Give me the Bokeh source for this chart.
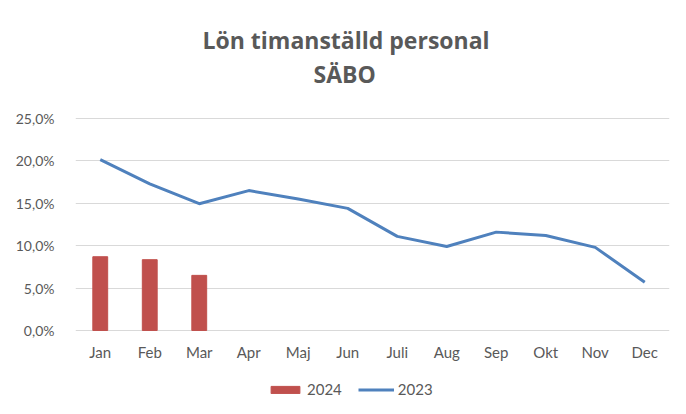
from bokeh.plotting import figure
from bokeh.models import (Title, Legend, LegendItem, CustomJSTickFormatter, FixedTicker,
                          CategoricalAxis)
from bokeh.embed import file_html
from bokeh.resources import INLINE

months = ["Jan", "Feb", "Mar", "Apr", "Maj", "Jun", "Juli", "Aug", "Sep", "Okt", "Nov", "Dec"]
bars_2024_months = ["Jan", "Feb", "Mar"]
bars_2024 = [8.7, 8.35, 6.5]
line_2023 = [20.15, 17.3, 14.95, 16.5, 15.5, 14.4, 11.1, 9.9, 11.6, 11.2, 9.8, 5.7]
y_ticks = [0, 5, 10, 15, 20, 25]

TXT = "#595959"
FONT = "Lato"

p = figure(x_range=months, y_range=(-8.02, 28.42), width=670, height=398,
           output_backend="svg", toolbar_location=None, x_axis_location=None,
           min_border_left=75, min_border_right=1, min_border_top=89, min_border_bottom=0)
p.title = None

t2 = Title(text="SÄBO", align="left", offset=238, text_font_size="23px", text_font="Open Sans",
           text_font_style="bold", text_color=TXT, standoff=0)
t1 = Title(text="Lön timanställd personal", align="left", offset=127, text_font_size="23px",
           text_font="Open Sans", text_font_style="bold", text_color=TXT, standoff=0)
p.add_layout(t2, "above")
p.add_layout(t1, "above")

r_bar = p.vbar(x=bars_2024_months, top=bars_2024, width=0.3, color="#C0504D")
r_line = p.line(x=months, y=line_2023, line_width=3, color="#4F81BD")

xaxis = CategoricalAxis(fixed_location=0)
p.add_layout(xaxis, "below")

p.outline_line_color = None
p.xgrid.grid_line_color = None
p.ygrid.grid_line_color = "#D9D9D9"
p.ygrid.grid_line_width = 1
p.ygrid.ticker = FixedTicker(ticks=y_ticks)
p.yaxis.ticker = FixedTicker(ticks=y_ticks)
p.yaxis.formatter = CustomJSTickFormatter(code="return tick.toFixed(1).replace('.', ',') + '%';")
for ax in (xaxis, p.yaxis[0]):
    ax.axis_line_color = None
    ax.major_tick_line_color = None
    ax.minor_tick_line_color = None
    ax.major_label_text_font = FONT
    ax.major_label_text_color = TXT
xaxis.major_label_text_font_size = "15px"
p.yaxis.major_label_text_font_size = "14px"
xaxis.major_label_standoff = 7
p.yaxis.major_label_standoff = 15

legend = Legend(items=[LegendItem(label="2024", renderers=[r_bar]),
                       LegendItem(label="2023", renderers=[r_line])],
                orientation="horizontal", location=(192, 0),
                glyph_width=36, glyph_height=9, label_height=16, label_standoff=4, spacing=16,
                padding=0, margin=0, border_line_color=None, background_fill_alpha=0,
                label_text_font=FONT, label_text_font_size="15px", label_text_color=TXT)
p.add_layout(legend, "center")

open("out.html", "w").write(file_html(p, INLINE))
